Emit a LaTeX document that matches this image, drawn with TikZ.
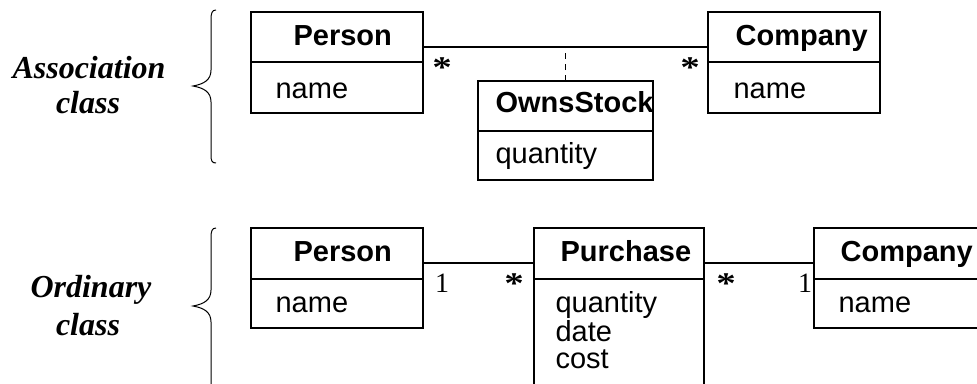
\documentclass[tikz,border=0pt]{standalone}
\usepackage{fontspec}
\setmainfont{Liberation Serif}
\setsansfont{Liberation Sans}
\begin{document}
\begin{tikzpicture}[x=1pt,y=-1pt,
  line width=1.2pt,
  cell/.style={draw, rectangle, inner sep=0pt, outer sep=0pt, anchor=north west},
  title/.style={anchor=base west, inner sep=0pt, font=\sffamily\bfseries\fontsize{29}{29}\selectfont},
  attr/.style={anchor=base west, inner sep=0pt, align=left, font=\sffamily\fontsize{29}{28}\selectfont},
  side/.style={anchor=base, inner sep=0pt, font=\rmfamily\bfseries\itshape\fontsize{32}{32}\selectfont},
  many/.style={anchor=base, inner sep=0pt, xscale=1.3, font=\rmfamily\bfseries\fontsize{30}{30}\selectfont},
  one/.style={anchor=base, inner sep=0pt, font=\rmfamily\fontsize{28}{28}\selectfont},
  link/.style={line width=1.1pt},
  brace/.style={line width=1pt}]
\useasboundingbox (0,0) rectangle (977,383);
\clip (0,0) rectangle (977,383);

% ---------- association class ----------
\node[side] (lblA1) at (89,78) {Association};
\node[side] (lblA2) at (88,113) {class};
\draw[brace] (216,10) .. controls (212,10) and (211,13) .. (211,20)
  -- (211,70) .. controls (211,80) and (204,84) .. (193,86)
  .. controls (204,88) and (211,92) .. (211,102)
  -- (211,155) .. controls (211,161) and (212,163) .. (216,163);

\node[cell, minimum width=172pt, minimum height=50pt] (p1h) at (251,12) {};
\node[cell, minimum width=172pt, minimum height=51pt] (p1b) at (251,62) {};
\node[title] (p1t) at (293,45) {Person};
\node[attr] (p1a) at (275,98) {name};

\node[cell, minimum width=172pt, minimum height=50pt] (c1h) at (708,12) {};
\node[cell, minimum width=172pt, minimum height=51pt] (c1b) at (708,62) {};
\node[title] (c1t) at (735,45) {Company};
\node[attr] (c1a) at (733,98) {name};

\node[cell, minimum width=175pt, minimum height=50pt] (osh) at (478,81) {};
\node[cell, minimum width=175pt, minimum height=49pt] (osb) at (478,131) {};
\node[title] (ost) at (495,112) {OwnsStock};
\node[attr] (osa) at (495,163) {quantity};

\coordinate (l1a) at ([yshift=-10pt]p1h.east);
\coordinate (l1b) at ([yshift=-10pt]c1h.west);
\draw[link] (l1a) -- (l1b);
\draw[link, dash pattern=on 6pt off 5pt] (osh.north) -- (osh.north |- l1a);
\node[many] (m1) at (442,77) {*};
\node[many] (m2) at (690,77) {*};

% ---------- ordinary class ----------
\node[side] (lblO1) at (91,297) {Ordinary};
\node[side] (lblO2) at (88,335) {class};
\draw[brace] (216,228) .. controls (212,228) and (211,231) .. (211,238)
  -- (211,290) .. controls (211,300) and (204,304) .. (193,306)
  .. controls (204,308) and (211,312) .. (211,322)
  -- (211,395);

\node[cell, minimum width=172pt, minimum height=51pt] (p2h) at (251,228) {};
\node[cell, minimum width=172pt, minimum height=49pt] (p2b) at (251,279) {};
\node[title] (p2t) at (293,261) {Person};
\node[attr] (p2a) at (275,312) {name};

\node[cell, minimum width=170pt, minimum height=51pt] (puh) at (534,228) {};
\node[cell, minimum width=170pt, minimum height=130pt] (pub) at (534,279) {};
\node[title] (put) at (560,261) {Purchase};
\node[attr] (pua1) at (555,312) {quantity};
\node[attr] (pua2) at (555,341) {date};
\node[attr] (pua3) at (555,368) {cost};

\node[cell, minimum width=190pt, minimum height=51pt] (c2h) at (814,228) {};
\node[cell, minimum width=190pt, minimum height=49pt] (c2b) at (814,279) {};
\node[title] (c2t) at (840,261) {Company};
\node[attr] (c2a) at (838,312) {name};

\draw[link] ([yshift=-9.5pt]p2h.east) -- ([yshift=-9.5pt]puh.west);
\draw[link] ([yshift=-9.5pt]puh.east) -- ([yshift=-9.5pt]c2h.west);
\node[one] (o1) at (442,292) {1};
\node[many] (m3) at (514,293) {*};
\node[many] (m4) at (726,293) {*};
\node[one] (o2) at (805,292) {1};
\end{tikzpicture}
\end{document}
